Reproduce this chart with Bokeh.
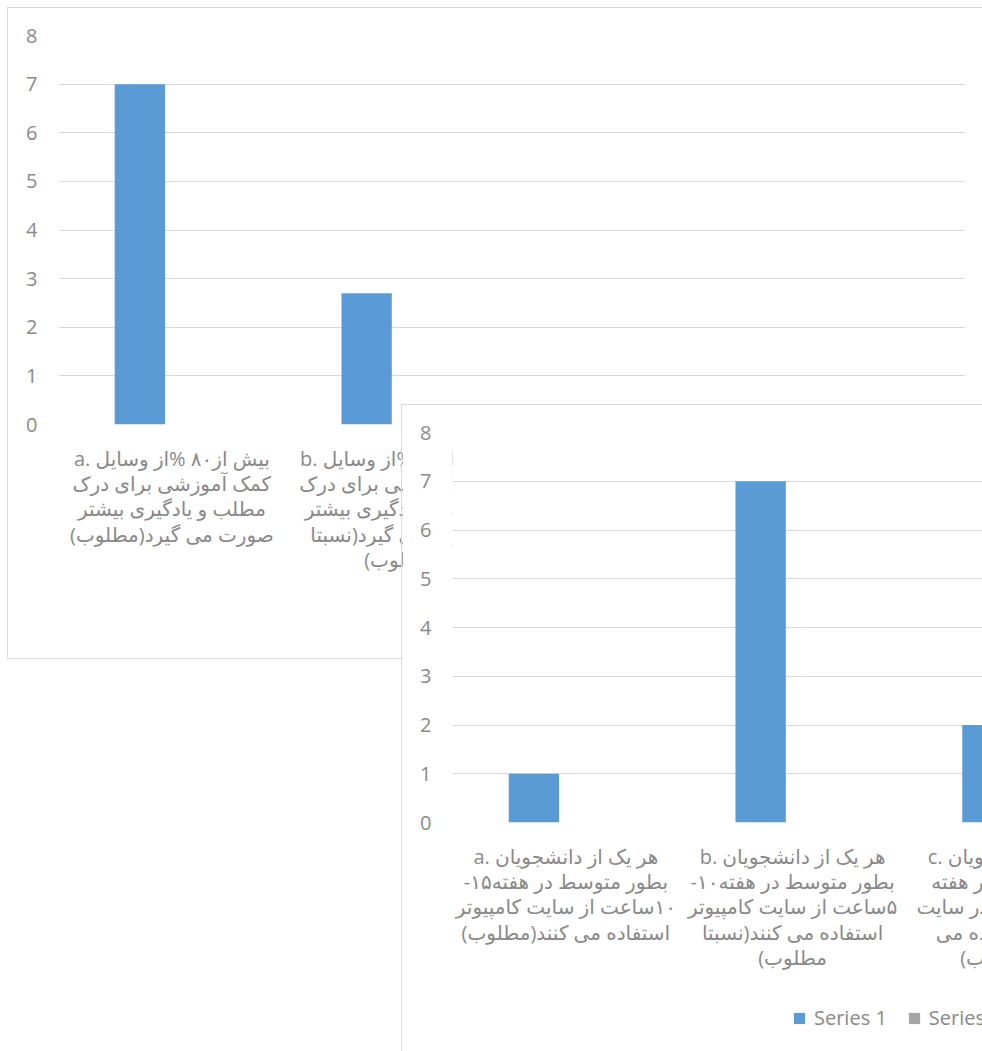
from bokeh.plotting import figure
from bokeh.models import (Range1d, FixedTicker, ColumnDataSource, Legend,
                          LegendItem, InlineStyleSheet)
from bokeh.layouts import column
from bokeh.transform import dodge
from bokeh.embed import file_html
from bokeh.resources import INLINE

# ---------------- data ----------------
top_categories = ["a", "b", "c", "d"]
top_series_1 = [7, 2.7, 0, 0]
top_series_2 = [0, 0, 0, 0]
top_labels = [
    ["بیش از۸۰ %از وسایل .a", "کمک آموزشی برای درک", "مطلب و یادگیری بیشتر", "صورت می گیرد(مطلوب)"],
    ["بیش از۵۰ %از وسایل .b", "کمک آموزشی برای درک", "مطلب و یادگیری بیشتر", "صورت می گیرد(نسبتا", "مطلوب)"],
    [],
    [],
]

bottom_categories = ["a", "b", "c", "d"]
bottom_series_1 = [1, 7, 2, 0]
bottom_series_2 = [0, 0, 0, 0]
bottom_labels = [
    ["هر یک از دانشجویان .a", "بطور متوسط در هفته۱۵-", "۱۰ساعت از سایت کامپیوتر", "استفاده می کنند(مطلوب)"],
    ["هر یک از دانشجویان .b", "بطور متوسط در هفته۱۰-", "۵ساعت از سایت کامپیوتر", "استفاده می کنند(نسبتا", "مطلوب)"],
    ["هر یک از دانشجویان .c", "بطور متوسط در هفته", "کمتر از ۵ساعت در سایت", "کامپیوتر استفاده می", "کنند(نامطلوب)"],
    [],
]

y_ticks = [0, 1, 2, 3, 4, 5, 6, 7, 8]
series_names = ["Series 1", "Series 2"]
series_colors = ["#5B9BD5", "#A5A5A5"]

GRID = "#d9d9d9"
TXT = "#898989"
RLE, PDF = "\u202b", "\u202c"
BAR_W = 0.222
OFFSET = 0.141


def rtl_label(lines):
    return "\n".join(RLE + s + PDF for s in lines)


def add_bars(p, src):
    r1 = p.vbar(x=dodge("x", -OFFSET), top="s1", width=BAR_W, source=src,
                fill_color=series_colors[0], line_color=None)
    r2 = p.vbar(x=dodge("x", OFFSET), top="s2", width=BAR_W, source=src,
                fill_color=series_colors[1], line_color=None)
    return r1, r2


def make_chart(cats, s1, s2, labels, frame_h, right, bottom, css):
    n = len(cats)
    p = figure(x_range=Range1d(0, n), y_range=Range1d(0, 8),
               frame_width=907, frame_height=frame_h,
               min_border_left=50, min_border_right=right, min_border_top=27,
               min_border_bottom=bottom, output_backend="svg", toolbar_location=None,
               title=None, background_fill_color="white", border_fill_color="white",
               outline_line_color=None)
    p.stylesheets = [InlineStyleSheet(css=css)]
    xs = [i + 0.5 for i in range(n)]
    src = ColumnDataSource(dict(x=xs, s1=s1, s2=s2))
    add_bars(p, src)

    p.xaxis.ticker = FixedTicker(ticks=xs)
    p.xaxis.major_label_overrides = {x: rtl_label(l) for x, l in zip(xs, labels)}
    p.xaxis.major_tick_line_color = None
    p.xaxis.minor_tick_line_color = None
    p.xaxis.axis_line_color = None
    p.xaxis.major_label_standoff = 14
    p.xaxis.major_label_text_font = "Open Sans, DejaVu Sans"
    p.xaxis.major_label_text_font_size = "20px"
    p.xaxis.major_label_text_color = TXT
    p.xaxis.major_label_text_line_height = 0.94

    p.yaxis.ticker = FixedTicker(ticks=y_ticks)
    p.yaxis.major_tick_line_color = None
    p.yaxis.minor_tick_line_color = None
    p.yaxis.axis_line_color = None
    p.yaxis.major_label_standoff = 15
    p.yaxis.major_label_text_font = "Open Sans"
    p.yaxis.major_label_text_font_size = "20px"
    p.yaxis.major_label_text_color = TXT

    p.xgrid.visible = False
    p.ygrid.ticker = FixedTicker(ticks=y_ticks)
    p.ygrid.grid_line_color = GRID
    p.ygrid.grid_line_width = 1
    return p, src


p1, _ = make_chart(top_categories, top_series_1, top_series_2, top_labels,
                   389, 17, 234,
                   ":host { position: absolute !important; left: 8px !important; top: 8px !important;"
                   " outline: 1px solid #d9d9d9; }")

p2, bottom_src = make_chart(bottom_categories, bottom_series_1, bottom_series_2, bottom_labels,
                            390, 18, 234,
                            ":host { position: absolute !important; left: 402px !important; top: 405px !important;"
                            " outline: 1px solid #d9d9d9; }")

# legend of the bottom chart (its lower part), drawn in a small legend-only panel
p3 = figure(width=400, height=40, x_range=Range1d(0, 4), y_range=Range1d(100, 101),
            min_border=0, min_border_left=0, min_border_right=0, min_border_top=0,
            min_border_bottom=0, output_backend="svg", toolbar_location=None, title=None,
            x_axis_location=None, y_axis_location=None, outline_line_color=None,
            background_fill_color="white", border_fill_color="white")
p3.grid.visible = False
p3.stylesheets = [InlineStyleSheet(css=":host { position: absolute !important; left: 742px !important;"
                                       " top: 1004px !important; }")]
l1, l2 = add_bars(p3, bottom_src)
legend = Legend(items=[LegendItem(label=series_names[0], renderers=[l1]),
                       LegendItem(label=series_names[1], renderers=[l2])],
                location="top_left", orientation="horizontal",
                glyph_width=14, glyph_height=14, label_standoff=8, spacing=20,
                padding=0, margin=0, border_line_color=None, background_fill_alpha=0,
                label_text_font="Open Sans", label_text_font_size="20px", label_text_color=TXT)
p3.add_layout(legend)

p = column(p1, p2, p3)
p.stylesheets = [InlineStyleSheet(css=":host { position: absolute !important; left: 0px !important;"
                                      " top: 0px !important; width: 982px !important; height: 1051px !important;"
                                      " overflow: hidden !important; }")]

open("out.html", "w").write(file_html(p, INLINE))
